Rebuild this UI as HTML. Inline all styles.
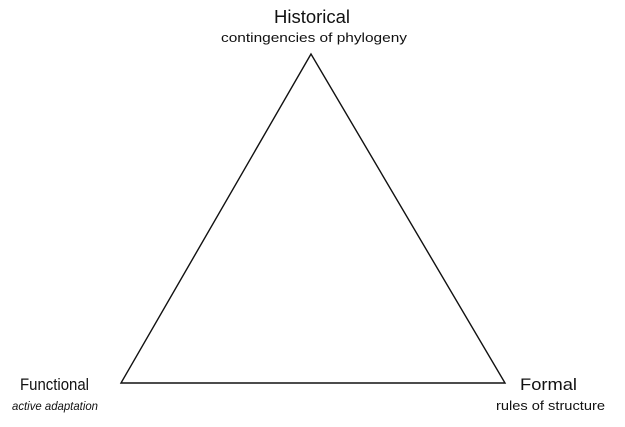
<!DOCTYPE html>
<html><head><meta charset="utf-8"><style>
html,body{margin:0;padding:0;background:#fff;}
svg{display:block;font-family:"Liberation Sans",sans-serif;fill:#111;}
</style></head><body>
<svg width="625" height="427" viewBox="0 0 625 427">
<polygon points="311,54 121,383 505,383" fill="none" stroke="#111" stroke-width="1.4"/>
<text x="312" y="23" font-size="18" text-anchor="middle" textLength="76" lengthAdjust="spacingAndGlyphs">Historical</text>
<text x="314" y="42" font-size="13" text-anchor="middle" textLength="186" lengthAdjust="spacingAndGlyphs">contingencies of phylogeny</text>
<text x="20" y="390" font-size="17" textLength="69" lengthAdjust="spacingAndGlyphs">Functional</text>
<text x="12" y="410" font-size="12" font-style="italic" textLength="86" lengthAdjust="spacingAndGlyphs">active adaptation</text>
<text x="520" y="390" font-size="17" textLength="57" lengthAdjust="spacingAndGlyphs">Formal</text>
<text x="496" y="410" font-size="13" textLength="109" lengthAdjust="spacingAndGlyphs">rules of structure</text>
</svg>
</body></html>
